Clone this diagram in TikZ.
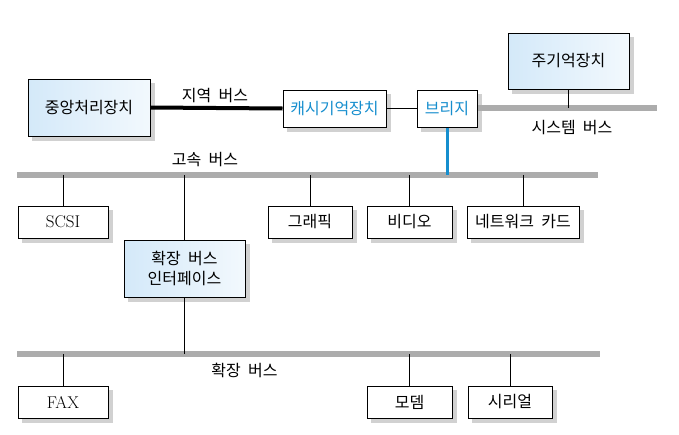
\documentclass[tikz,border=0pt]{standalone}
\usepackage{fontspec}
\newfontfamily\krfont{Noto Sans CJK KR}
\usetikzlibrary{backgrounds}
\definecolor{busgray}{RGB}{172,172,172}
\definecolor{linkblue}{RGB}{22,142,206}
\definecolor{paleblue}{RGB}{212,233,249}
\newcommand{\gap}{\hspace{0.45em}}
\tikzset{
    unitbox/.style = {rectangle, draw=black, line width=1pt, fill=white, inner sep=0pt, align=center, font=\krfont\fontsize{16}{20}\selectfont},
    shadebox/.style = {unitbox, left color=paleblue, right color=paleblue!30},
    latinbox/.style = {unitbox, font=\rmfamily\fontsize{17}{20}\selectfont},
    boxshadow/.style = {fill=black!18},
    buslabel/.style = {inner sep=0pt, font=\krfont\fontsize{16}{20}\selectfont},
    busline/.style = {line width=6pt, busgray},
    localbus/.style = {line width=4pt, black},
    linkline/.style = {line width=1pt, black},
    bluelink/.style = {line width=3pt, linkblue}
}
\begin{document}
\begin{tikzpicture}[x=1pt,y=-1pt]
\useasboundingbox (0,0) rectangle (679,434);

% buses
\coordinate (sysL) at (477,108);
\coordinate (sysR) at (657,108);
\coordinate (hsL) at (17,175);
\coordinate (hsR) at (598,175);
\coordinate (exL) at (17,354);
\coordinate (exR) at (600,354);
\draw[busline] (sysL) -- (sysR);
\draw[busline] (hsL) -- (hsR);
\draw[busline] (exL) -- (exR);

% units
\node[shadebox, minimum width=122pt, minimum height=57pt] at (89,107.5) (cpu) {중앙처리장치};
\node[unitbox, text=linkblue, minimum width=103pt, minimum height=37pt] at (334.5,108.5) (cache) {캐시기억장치};
\node[unitbox, text=linkblue, minimum width=60pt, minimum height=37pt] at (447,108.5) (bridge) {브리지};
\node[shadebox, minimum width=121pt, minimum height=56pt] at (568.5,61) (memory) {주기억장치};
\node[latinbox, minimum width=90pt, minimum height=32pt] at (63,222) (scsi) {SCSI};
\node[shadebox, minimum width=121pt, minimum height=57pt] at (184.5,268.5) (iface) {확장\gap 버스\\인터페이스};
\node[unitbox, minimum width=84pt, minimum height=32pt] at (310,222) (graphic) {그래픽};
\node[unitbox, minimum width=85pt, minimum height=32pt] at (409.5,222) (video) {비디오};
\node[unitbox, minimum width=112pt, minimum height=32pt] at (523,222) (netcard) {네트워크\gap 카드};
\node[latinbox, minimum width=90pt, minimum height=32pt] at (63,402) (fax) {FAX};
\node[unitbox, minimum width=85pt, minimum height=32pt] at (409.5,402) (modem) {모뎀};
\node[unitbox, minimum width=84pt, minimum height=32pt] at (510,402) (serial) {시리얼};

% shadows
\begin{scope}[on background layer]
\foreach \unit in {cpu,cache,bridge,memory,scsi,iface,graphic,video,netcard,fax,modem,serial}
    \fill[boxshadow] ([xshift=4pt,yshift=-4pt]\unit.south west) rectangle ([xshift=4pt,yshift=-4pt]\unit.north east);
\end{scope}

% bus names
\node[buslabel] at (215,96) (localname) {지역\gap 버스};
\node[buslabel] at (572,128) (sysname) {시스템\gap 버스};
\node[buslabel] at (205,160) (hsname) {고속\gap 버스};
\node[buslabel] at (244.5,370) (exname) {확장\gap 버스};

% links
\draw[localbus] (cpu.east) -- (cache.west);
\draw[linkline] (cache.east) -- (bridge.west);
\draw[linkline] (memory.south) -- (memory.south |- sysL);
\draw[bluelink] (bridge.south) -- (bridge.south |- hsL);
\foreach \unit in {scsi,iface,graphic,video,netcard}
    \draw[linkline] (\unit.north) -- (\unit.north |- hsL);
\draw[linkline] (iface.south) -- (iface.south |- exL);
\foreach \unit in {fax,modem,serial}
    \draw[linkline] (\unit.north) -- (\unit.north |- exL);
\end{tikzpicture}
\end{document}
